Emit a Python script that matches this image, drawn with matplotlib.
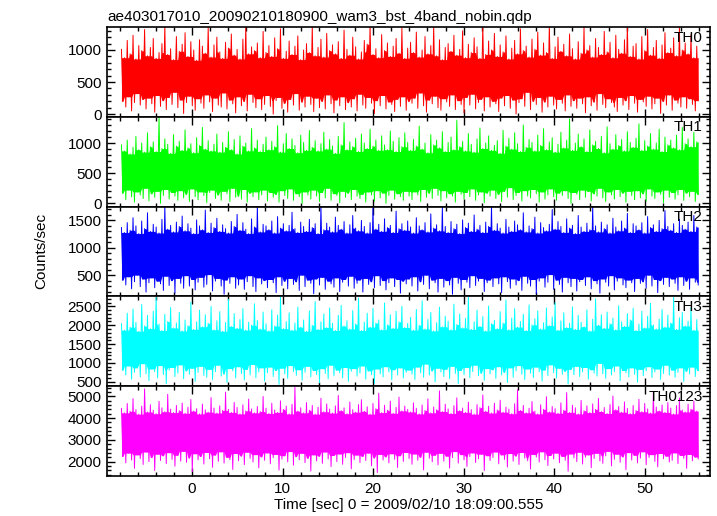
import numpy as np, pandas as pd
import matplotlib as mpl; mpl.use("Agg")
import matplotlib.pyplot as plt
from matplotlib.ticker import MultipleLocator

mpl.rcParams.update({"font.family": ["Liberation Sans", "DejaVu Sans"], "font.size": 11})

TITLE = "ae403017010_20090210180900_wam3_bst_4band_nobin.qdp"
XLABEL = "Time [sec] 0 = 2009/02/10 18:09:00.555"
YLABEL = "Counts/sec"
T_START, T_END = -7.8, 55.9          # time span of the light curve (s)
XLIM = (-9.4, 57.2)

BANDS = ["TH0", "TH1", "TH2", "TH3", "TH0123"]
COLORS = ["#ff0000", "#00ff00", "#0000ff", "#00ffff", "#ff00ff"]
YLIMS = [(-42, 1359), (-54, 1436), (111, 1753), (383, 2765), (1339, 5462)]
YMAJOR = [500, 500, 500, 500, 1000]
YMINOR = [100, 100, 100, 100, 200]

# local peaks / troughs of each light curve (counts/sec)
TH0_HI = [1010, 880, 1150, 940, 1230, 860, 1070, 990, 1320, 910,
          1040, 1180, 870, 960, 1100, 1390, 930, 1020, 850, 1210,
          980, 1090, 1270, 900, 1130, 1000, 840, 1160, 1060, 950,
          1350, 890, 1080, 1200, 970, 870, 1120, 1030, 1250, 920,
          1010, 860, 1170, 1400, 940, 1050, 990, 1110, 880, 1290,
          960, 1070, 900, 1190, 1020, 1330, 870, 980, 1140, 930,
          1060, 1220, 850, 1000, 1100, 960, 1380, 910, 1040, 1170,
          890, 1260, 990, 1080, 940, 1130, 870, 1310, 1010, 920,
          1200, 1050, 860, 970, 1150, 1090, 1400, 930, 1020, 880,
          1240, 990, 1110, 900, 1060, 1180, 950, 1340, 870, 1030,
          1120, 960, 1280, 890, 1000, 1210, 940, 1070, 1370, 910,
          1160, 850, 1040, 1100, 980, 1230, 920, 1010, 1300, 880,
          1090, 960, 1190, 1050, 870, 1400, 930, 1140, 1000, 1260,
          900, 1080, 970, 1220, 860, 1030, 1150, 940, 1330, 990,
          1060, 890, 1170, 1010, 1280, 920, 1110, 960, 1390, 870,
          1050, 1200, 980, 1090, 910, 1250, 1020, 860, 1130, 950,
          1360, 1000, 1070, 890, 1180, 1040, 930, 1290, 970, 1120,
          880, 1230, 1010, 950, 1160, 1400, 900, 1060, 1100, 860,
          1210, 990, 1320, 920, 1040, 1150, 870, 1080, 1270, 960,
          1030, 1190, 910, 1350, 1000, 1110, 940, 1240, 880, 1060]
TH0_LO = [200, 110, 270, 50, 180, 320, 140, 230, 80, 250,
          160, 30, 290, 120, 210, 70, 260, 150, 340, 100,
          220, 10, 180, 280, 130, 60, 240, 170, 90, 300,
          190, 40, 250, 140, 110, 330, 80, 220, 160, 20,
          270, 130, 200, 50, 310, 180, 100, 240, 70, 150,
          290, 120, 0, 210, 260, 90, 170, 30, 230, 140,
          320, 60, 190, 110, 280, 150, 40, 250, 100, 200,
          80, 300, 160, 20, 220, 130, 270, 70, 180, 110,
          240, 50, 310, 140, 90, 260, 170, 10, 210, 130,
          290, 80, 190, 150, 40, 230, 120, 270, 60, 200,
          170, 250, 90, 330, 130, 30, 220, 160, 280, 100,
          60, 240, 190, 120, 300, 70, 210, 150, 20, 260,
          140, 310, 80, 180, 230, 50, 270, 110, 200, 160,
          40, 250, 130, 290, 90, 220, 0, 180, 240, 120,
          340, 70, 200, 150, 260, 30, 190, 110, 280, 140,
          80, 230, 170, 50, 300, 120, 210, 90, 250, 160,
          20, 270, 130, 190, 60, 320, 150, 100, 240, 180,
          110, 40, 260, 140, 210, 70, 290, 170, 30, 230,
          190, 120, 280, 80, 160, 250, 10, 200, 140, 300,
          60, 220, 170, 110, 270, 90, 240, 150, 50, 210]
TH1_HI = [970, 870, 1050, 820, 930, 1110, 890, 1000, 850, 1170,
          940, 1020, 860, 1430, 910, 1070, 980, 830, 1140, 950,
          1030, 880, 1220, 920, 990, 840, 1090, 960, 1260, 900,
          1040, 870, 980, 1150, 850, 1010, 930, 1190, 890, 1060,
          820, 1120, 950, 1000, 870, 1240, 920, 1050, 860, 980,
          1100, 890, 1030, 940, 1290, 850, 990, 1160, 910, 1070,
          960, 840, 1130, 1010, 880, 1210, 930, 1040, 870, 990,
          1180, 900, 1060, 950, 830, 1110, 970, 1340, 890, 1020,
          940, 1080, 860, 1150, 1000, 910, 1230, 950, 1050, 880,
          1120, 970, 890, 1200, 1030, 860, 1090, 940, 1170, 1010,
          880, 1060, 950, 1280, 900, 1000, 840, 1140, 970, 1050,
          920, 1190, 860, 1010, 1100, 890, 1380, 940, 1030, 870,
          1160, 980, 850, 1070, 1250, 910, 1000, 1120, 880, 960,
          1040, 830, 1210, 950, 1080, 900, 1170, 990, 860, 1300,
          930, 1060, 1010, 870, 1130, 960, 1240, 890, 1020, 1090,
          850, 980, 1180, 920, 1050, 1400, 880, 1000, 1150, 940,
          1070, 860, 1220, 970, 1030, 910, 1110, 840, 1270, 990,
          900, 1140, 960, 1060, 870, 1190, 1010, 930, 1080, 1320,
          880, 1040, 950, 1160, 900, 1000, 1230, 860, 1100, 970,
          1050, 920, 1130, 890, 1260, 990, 1070, 940, 1180, 1020]
TH1_LO = [170, 60, 220, 110, 20, 190, 140, 80, 250, 40,
          160, 100, 200, 0, 130, 230, 70, 180, 120, 50,
          210, 90, 150, 30, 240, 110, 60, 190, 130, 10,
          180, 220, 80, 140, 50, 200, 160, 30, 250, 100,
          120, 70, 230, 20, 170, 110, 190, 60, 140, 220,
          40, 180, 100, 150, 20, 210, 130, 80, 240, 50,
          160, 110, 0, 190, 140, 70, 220, 120, 30, 180,
          90, 250, 50, 160, 130, 10, 200, 100, 170, 60,
          230, 120, 80, 150, 20, 190, 140, 40, 210, 90,
          170, 0, 130, 220, 70, 160, 110, 50, 200, 120,
          60, 190, 140, 30, 230, 100, 170, 80, 250, 130,
          40, 210, 90, 160, 120, 20, 200, 150, 70, 180,
          110, 240, 50, 140, 190, 10, 170, 120, 220, 80,
          150, 30, 200, 100, 260, 60, 130, 180, 40, 210,
          120, 90, 230, 160, 20, 190, 70, 140, 240, 110,
          50, 170, 130, 210, 80, 0, 180, 150, 60, 220,
          100, 200, 40, 160, 120, 250, 90, 30, 190, 140,
          70, 230, 110, 170, 20, 200, 130, 60, 210, 90,
          160, 40, 240, 120, 80, 190, 150, 10, 220, 100,
          180, 70, 140, 230, 50, 170, 110, 200, 30, 150]
TH2_HI = [1370, 1280, 1460, 1320, 1550, 1400, 1260, 1490, 1350, 1640,
          1300, 1430, 1380, 1270, 1520, 1760, 1340, 1410, 1290, 1470,
          1390, 1580, 1310, 1440, 1360, 1260, 1510, 1400, 1330, 1690,
          1280, 1450, 1370, 1540, 1300, 1420, 1350, 1270, 1480, 1390,
          1610, 1320, 1460, 1340, 1260, 1530, 1380, 1760, 1290, 1430,
          1400, 1330, 1490, 1270, 1570, 1360, 1440, 1310, 1410, 1650,
          1350, 1280, 1470, 1390, 1300, 1520, 1370, 1440, 1260, 1760,
          1330, 1450, 1380, 1290, 1560, 1410, 1340, 1480, 1270, 1420,
          1590, 1360, 1310, 1500, 1390, 1270, 1460, 1760, 1340, 1430,
          1300, 1530, 1370, 1410, 1280, 1670, 1350, 1440, 1320, 1490,
          1380, 1270, 1550, 1400, 1330, 1460, 1290, 1620, 1360, 1420,
          1310, 1740, 1390, 1280, 1480, 1350, 1430, 1260, 1510, 1370,
          1450, 1300, 1600, 1340, 1410, 1280, 1470, 1390, 1760, 1320,
          1440, 1360, 1270, 1520, 1380, 1300, 1490, 1420, 1330, 1640,
          1290, 1400, 1350, 1560, 1270, 1460, 1370, 1310, 1430, 1700,
          1340, 1480, 1390, 1280, 1530, 1360, 1410, 1260, 1590, 1380,
          1300, 1450, 1330, 1760, 1400, 1290, 1470, 1350, 1420, 1270,
          1540, 1380, 1310, 1490, 1360, 1630, 1280, 1440, 1400, 1330,
          1460, 1270, 1570, 1370, 1420, 1300, 1500, 1350, 1680, 1390,
          1320, 1440, 1280, 1520, 1410, 1340, 1470, 1300, 1590, 1380]
TH2_LO = [410, 320, 470, 250, 380, 500, 290, 430, 190, 360,
          450, 270, 390, 340, 220, 480, 310, 400, 170, 440,
          350, 260, 490, 300, 420, 230, 370, 460, 280, 330,
          510, 210, 390, 440, 300, 150, 410, 350, 470, 260,
          320, 430, 240, 380, 490, 290, 200, 450, 340, 400,
          270, 420, 360, 180, 470, 310, 390, 250, 440, 330,
          380, 220, 500, 290, 410, 350, 160, 430, 320, 460,
          240, 390, 340, 280, 450, 200, 370, 420, 300, 480,
          260, 350, 410, 190, 440, 330, 380, 270, 490, 310,
          400, 230, 360, 450, 290, 420, 170, 390, 340, 430,
          300, 470, 210, 380, 330, 500, 250, 410, 360, 190,
          440, 280, 400, 320, 150, 460, 350, 230, 420, 370,
          270, 490, 310, 390, 440, 200, 360, 410, 290, 450,
          340, 180, 470, 380, 260, 430, 320, 400, 220, 480,
          350, 300, 420, 160, 390, 450, 280, 370, 510, 240,
          410, 330, 190, 460, 360, 290, 440, 210, 380, 420,
          310, 470, 250, 400, 340, 170, 430, 370, 300, 490,
          230, 390, 450, 320, 270, 410, 360, 200, 440, 350,
          380, 260, 500, 300, 420, 180, 400, 330, 460, 290,
          430, 350, 220, 470, 310, 390, 240, 450, 370, 320]
TH3_HI = [2040, 1870, 2320, 1950, 2430, 2080, 1840, 2550, 1980, 2260,
          1910, 2370, 2750, 2030, 1860, 2290, 2100, 2470, 1930, 2060,
          2340, 1850, 2140, 1990, 2610, 1890, 2090, 2400, 1960, 2280,
          2050, 2500, 1880, 2120, 2360, 1840, 2070, 2690, 1970, 2310,
          1920, 2150, 2440, 1870, 2080, 2000, 2570, 2130, 1900, 2350,
          2040, 1850, 2410, 1980, 2270, 2760, 1910, 2100, 2330, 1870,
          2060, 2480, 1950, 2140, 1840, 2380, 2000, 2630, 1890, 2090,
          2300, 1940, 2460, 2050, 1860, 2260, 2530, 1980, 2120, 1900,
          2390, 2030, 2720, 1860, 2080, 2320, 1950, 2450, 2060, 2140,
          1880, 2590, 2010, 2280, 1920, 2370, 2090, 2500, 1940, 2050,
          2210, 1870, 2420, 2000, 2650, 1900, 2150, 2340, 1850, 2070,
          2480, 1960, 2240, 2110, 1880, 2560, 2020, 2300, 1930, 2180,
          2760, 1890, 2090, 2400, 1970, 2230, 1850, 2510, 2040, 2130,
          1910, 2360, 2060, 2670, 1880, 2190, 2440, 1950, 2100, 2290,
          1860, 2540, 2010, 2170, 2380, 1900, 2070, 2460, 1990, 2220,
          2600, 1870, 2120, 2330, 1940, 2050, 2490, 1890, 2260, 2080,
          1960, 2410, 1850, 2160, 2700, 2000, 2280, 1920, 2350, 2040,
          2190, 1880, 2520, 2090, 1970, 2310, 2140, 2450, 1860, 2030,
          2370, 1930, 2240, 2580, 2010, 1900, 2160, 2420, 1950, 2270,
          2060, 2740, 1890, 2200, 2340, 1980, 2110, 2470, 1870, 2150]
TH3_LO = [810, 680, 920, 570, 750, 870, 630, 980, 710, 530,
          840, 770, 600, 930, 690, 450, 810, 880, 640, 730,
          950, 580, 790, 700, 860, 510, 750, 910, 670, 620,
          830, 560, 770, 940, 650, 710, 480, 850, 790, 600,
          900, 720, 550, 830, 680, 960, 610, 760, 870, 520,
          740, 890, 640, 800, 430, 860, 710, 590, 930, 770,
          670, 820, 540, 750, 910, 630, 800, 690, 470, 850,
          720, 580, 940, 660, 810, 740, 600, 880, 510, 780,
          850, 650, 730, 920, 570, 790, 690, 460, 840, 710,
          630, 900, 760, 550, 820, 680, 870, 600, 750, 810,
          700, 560, 890, 740, 620, 970, 680, 790, 500, 860,
          760, 640, 830, 580, 910, 720, 450, 800, 690, 880,
          610, 770, 940, 660, 730, 540, 850, 710, 820, 590,
          900, 680, 750, 480, 870, 620, 790, 930, 700, 560,
          840, 730, 610, 890, 770, 520, 810, 660, 950, 740,
          600, 860, 700, 780, 440, 830, 690, 910, 640, 760,
          880, 570, 820, 730, 650, 990, 710, 590, 850, 680,
          770, 920, 530, 800, 740, 630, 870, 700, 490, 830,
          660, 790, 900, 610, 760, 840, 560, 720, 940, 680,
          810, 620, 750, 870, 510, 780, 710, 890, 640, 800]
TH0123_HI = [4440, 4240, 4670, 4310, 4890, 4390, 4180, 4550, 5340, 4280,
             4610, 4360, 4200, 4770, 4470, 4290, 5090, 4410, 4250, 4580,
             4340, 4690, 4220, 4500, 4850, 4320, 4430, 4190, 4640, 4380,
             4270, 4940, 4460, 4230, 4560, 4350, 5190, 4400, 4260, 4720,
             4490, 4190, 4610, 4330, 4870, 4420, 4240, 4530, 4300, 4990,
             4450, 4210, 4680, 4370, 4260, 4790, 4400, 4550, 4190, 4630,
             5410, 4320, 4470, 4240, 4710, 4360, 4580, 4180, 4500, 4910,
             4290, 4650, 4410, 4230, 4560, 5040, 4340, 4470, 4200, 4740,
             4390, 4270, 4620, 4840, 4310, 4520, 4180, 4670, 4430, 5140,
             4250, 4590, 4360, 4780, 4220, 4490, 4960, 4330, 4550, 4400,
             4280, 4700, 4450, 4190, 4600, 4350, 4880, 4240, 4510, 4380,
             5250, 4300, 4640, 4420, 4210, 4570, 4930, 4340, 4460, 4260,
             4730, 4390, 4180, 4620, 4480, 5060, 4310, 4540, 4230, 4680,
             4370, 4820, 4270, 4500, 4410, 4200, 4660, 5300, 4350, 4580,
             4240, 4450, 4760, 4320, 4190, 4610, 4400, 4980, 4280, 4530,
             4430, 4220, 4700, 4360, 5170, 4260, 4590, 4470, 4190, 4810,
             4340, 4560, 4250, 4650, 4400, 4900, 4300, 4480, 4210, 4620,
             5010, 4380, 4530, 4270, 4740, 4440, 4200, 4580, 4350, 4860,
             4290, 4670, 4420, 4230, 5200, 4510, 4330, 4600, 4260, 4710,
             4460, 4190, 4570, 4920, 4370, 4280, 4640, 4410, 4780, 4320]
TH0123_LO = [2240, 1940, 2390, 2070, 1690, 2310, 2140, 1870, 2440, 2000,
             2190, 1590, 2340, 2050, 2270, 1910, 2410, 2100, 1790, 2290,
             2020, 2470, 1970, 2170, 1540, 2360, 2080, 2240, 1890, 2420,
             2130, 1740, 2300, 2010, 2450, 1930, 2200, 2090, 1640, 2370,
             2040, 2260, 1860, 2430, 2150, 1980, 2320, 1710, 2220, 2060,
             2400, 1900, 2180, 2330, 1610, 2110, 2270, 1990, 2460, 1840,
             2230, 2080, 2380, 1950, 2160, 1570, 2310, 2030, 2250, 1920,
             2440, 2120, 1770, 2280, 2000, 2350, 1880, 2190, 2410, 1670,
             2090, 2300, 1960, 2240, 2050, 2390, 1810, 2170, 1500, 2330,
             2070, 2220, 1940, 2360, 2110, 1730, 2270, 2010, 2420, 2140,
             1880, 2350, 2060, 2200, 1620, 2430, 2150, 1990, 2290, 1850,
             2380, 2020, 2250, 1700, 2180, 2460, 1930, 2320, 2080, 1780,
             2230, 2400, 1960, 2130, 2340, 1590, 2270, 2050, 2190, 2440,
             1900, 2310, 2100, 1750, 2370, 2020, 2260, 1870, 2420, 2160,
             2040, 1660, 2330, 2210, 1980, 2450, 2090, 1820, 2280, 2120,
             2390, 1950, 2240, 2060, 1560, 2350, 2170, 2000, 2430, 1890,
             2200, 2310, 1720, 2140, 2380, 2030, 1920, 2260, 2470, 1800,
             2100, 2340, 1970, 2220, 1630, 2410, 2070, 2290, 1940, 2160,
             2450, 1860, 2190, 2320, 2010, 1760, 2370, 2130, 2250, 1980,
             2060, 2400, 1910, 2280, 2150, 1690, 2330, 2040, 2210, 2120]

PEAKS = [TH0_HI, TH1_HI, TH2_HI, TH3_HI, TH0123_HI]
TROUGHS = [TH0_LO, TH1_LO, TH2_LO, TH3_LO, TH0123_LO]


def main():
    fig, axes = plt.subplots(5, 1, sharex=True, figsize=(7.17, 5.16), dpi=100)
    fig.subplots_adjust(left=0.1492, right=0.9902, top=0.9477, bottom=0.0775, hspace=0)

    for i, ax in enumerate(axes):
        hi = np.asarray(PEAKS[i], float); lo = np.asarray(TROUGHS[i], float)
        n = len(hi)
        x = np.linspace(T_START, T_END, 2 * n)
        y = np.empty(2 * n); y[0::2] = hi; y[1::2] = lo
        # solid core of the band, bounded by the neighbouring peaks/troughs
        core_hi = pd.Series(hi).rolling(3, center=True, min_periods=1).min().values
        core_lo = pd.Series(lo).rolling(3, center=True, min_periods=1).max().values
        ax.fill_between(x, np.repeat(core_lo, 2), np.repeat(core_hi, 2),
                        color=COLORS[i], lw=0, zorder=2)
        ax.plot(x, y, color=COLORS[i], lw=0.7, zorder=3)

        ax.set_xlim(*XLIM); ax.set_ylim(*YLIMS[i])
        ax.yaxis.set_major_locator(MultipleLocator(YMAJOR[i]))
        ax.yaxis.set_minor_locator(MultipleLocator(YMINOR[i]))
        ax.xaxis.set_major_locator(MultipleLocator(10))
        ax.xaxis.set_minor_locator(MultipleLocator(2))
        ax.tick_params(which="both", direction="in", top=True, right=True,
                       width=1.0, labelsize=11, pad=4)
        ax.tick_params(which="major", length=6)
        ax.tick_params(which="minor", length=3)
        for s in ax.spines.values():
            s.set_linewidth(1.2); s.set_zorder(5)
        ax.text(0.988, 0.96, BANDS[i], transform=ax.transAxes, ha="right", va="top",
                fontsize=11, zorder=6)

    axes[0].set_title(TITLE, loc="left", fontsize=11, pad=4)
    axes[-1].set_xlabel(XLABEL, fontsize=11, labelpad=2)
    fig.text(0.057, 0.513, YLABEL, rotation=90, ha="center", va="center", fontsize=11)
    fig.savefig("out.png", dpi=100)


if __name__ == "__main__":
    main()
